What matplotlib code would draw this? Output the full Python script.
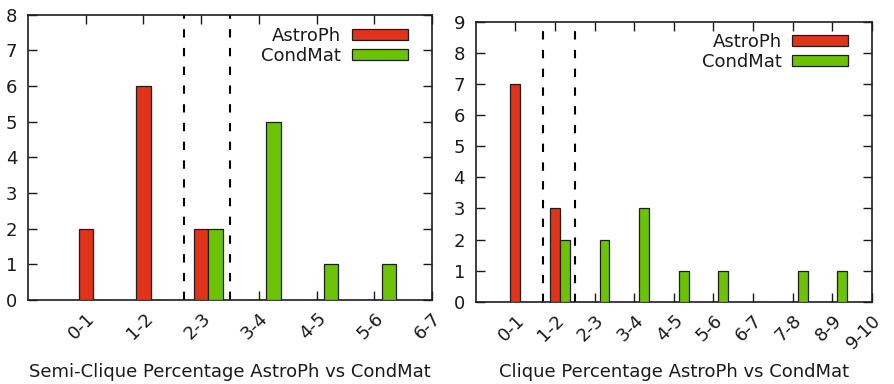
import matplotlib
matplotlib.use("Agg")
import matplotlib.pyplot as plt
from matplotlib.patches import Patch

# porcentajes de semi-cliques (panel izquierdo)
semi_cats = ["0-1", "1-2", "2-3", "3-4", "4-5", "5-6", "6-7"]
semi_astro = [2, 6, 2, 0, 0, 0, 0]
semi_cond = [0, 0, 2, 5, 1, 1, 0]
semi_cortes = [1.7, 2.5]

# porcentajes de cliques (panel derecho)
cliq_cats = ["0-1", "1-2", "2-3", "3-4", "4-5", "5-6", "6-7", "7-8", "8-9", "9-10"]
cliq_astro = [7, 3, 0, 0, 0, 0, 0, 0, 0, 0]
cliq_cond = [0, 2, 2, 3, 1, 1, 0, 1, 1, 0]
cliq_cortes = [0.7, 1.5]

ROJO = "#e1321a"
VERDE = "#6cc204"
BORDE = "#1e1e1e"
TEXTO = "#1a1a1a"
FS = 13

plt.rcParams["font.family"] = "DejaVu Sans"
plt.rcParams["text.color"] = TEXTO
plt.rcParams["axes.labelcolor"] = TEXTO
plt.rcParams["xtick.color"] = TEXTO
plt.rcParams["ytick.color"] = TEXTO

fig = plt.figure(figsize=(8.95, 3.84), dpi=100)
ax1 = fig.add_axes([0.0313, 0.21875, 0.4514, 0.743])
ax2 = fig.add_axes([0.5315, 0.2143, 0.4428, 0.7284])


def panel(ax, cats, astro, cond, cortes, ymax, titulo, ley_pos):
    n = len(cats)
    xs = list(range(n))
    w = 0.25
    ax.bar(xs, astro, width=w, color=ROJO, edgecolor=BORDE, linewidth=0.9,
           label="AstroPh", zorder=3)
    ax.bar([x + w for x in xs], cond, width=w, color=VERDE, edgecolor=BORDE,
           linewidth=0.9, label="CondMat", zorder=3)
    for c in cortes:
        ax.axvline(c, color="black", linewidth=1.5, dashes=(4, 5), zorder=2)

    ax.set_xlim(-1, n - 1)
    ax.set_ylim(0, ymax)
    ax.set_yticks(range(ymax + 1))
    ax.set_xticks(xs)
    # etiquetas giradas colgando de la esquina superior derecha
    ax.set_xticklabels(cats, rotation=45, ha="right", va="top",
                       rotation_mode="anchor", fontsize=FS)
    ax.tick_params(axis="both", direction="in", length=6.5, width=1.0,
                   top=True, right=True, labelsize=FS)
    ax.tick_params(axis="y", pad=7.7)
    ax.tick_params(axis="x", pad=7)
    for s in ax.spines.values():
        s.set_linewidth(1.2)
        s.set_color(BORDE)

    ax.set_xlabel(titulo, fontsize=FS)
    ax.xaxis.label.set_va("baseline")

    handles = [Patch(facecolor=ROJO, edgecolor=BORDE, linewidth=0.9),
               Patch(facecolor=VERDE, edgecolor=BORDE, linewidth=0.9)]
    ax.legend(handles, ["AstroPh", "CondMat"], loc="upper right",
              bbox_to_anchor=ley_pos, frameon=False, markerfirst=False,
              fontsize=FS, handlelength=3.1, handleheight=0.55,
              handletextpad=0.58, labelspacing=0.11, borderpad=0,
              borderaxespad=0)


panel(ax1, semi_cats, semi_astro, semi_cond, semi_cortes, 8,
      "Semi-Clique Percentage AstroPh vs CondMat",
      (1 - 24.4 / 404, 1 - 12 / 285.3))
ax1.xaxis.set_label_coords(0.5, -0.269)
panel(ax2, cliq_cats, cliq_astro, cliq_cond, cliq_cortes, 9,
      "Clique Percentage AstroPh vs CondMat",
      (1 - 23.7 / 396.3, 1 - 11 / 279.7))
ax2.xaxis.set_label_coords(0.5, -0.268)

fig.savefig("out.png", dpi=100)
